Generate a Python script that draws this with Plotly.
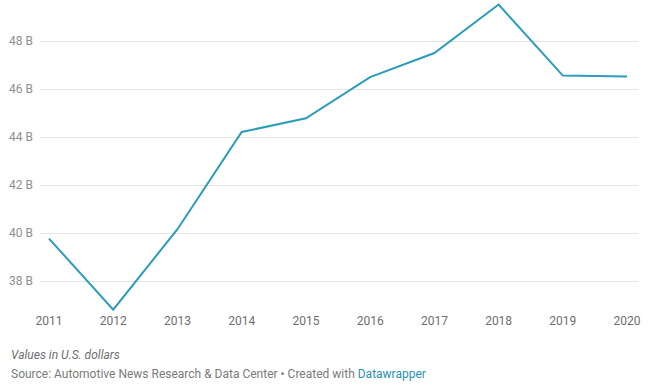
import plotly.graph_objects as go

years = [2011, 2012, 2013, 2014, 2015, 2016, 2017, 2018, 2019, 2020]
values_b = [39.78, 36.82, 40.17, 44.22, 44.79, 46.51, 47.51, 49.53, 46.57, 46.53]
y_ticks = [38, 40, 42, 44, 46, 48]
y_tick_labels = ["38 B", "40 B", "42 B", "44 B", "46 B", "48 B"]
x_tick_labels = [str(y) for y in years]

fig = go.Figure()
fig.add_trace(go.Scatter(
    x=years, y=values_b, mode="lines",
    line=dict(color="#2b9cb9", width=2),
    hoverinfo="skip", cliponaxis=False,
))

fig.update_layout(
    width=650, height=388,
    margin=dict(l=40, r=12, t=0, b=76, autoexpand=False),
    paper_bgcolor="white", plot_bgcolor="white",
    showlegend=False,
    font=dict(family="Roboto", size=12, color="#777777"),
    xaxis=dict(
        range=[2010.86, 2020.17],
        tickvals=years, ticktext=x_tick_labels,
        showgrid=False, zeroline=False, showline=False,
        ticks="", tickfont=dict(color="#6e6e6e", size=12),
        fixedrange=True, automargin=False,
    ),
    yaxis=dict(
        range=[36.72, 49.72],
        tickvals=y_ticks, ticktext=y_tick_labels,
        showgrid=True, gridcolor="#e4e4e4", gridwidth=1,
        zeroline=False, showline=False, ticks="",
        tickfont=dict(color="#8f8f8f", size=12),
        ticklabelstandoff=6,
        fixedrange=True, automargin=False,
    ),
    annotations=[
        dict(text="<i>Values in U.S. dollars</i>", xref="paper", yref="paper",
             x=-31/598, y=-(355-312)/312, xanchor="left", yanchor="middle",
             showarrow=False, font=dict(size=12, color="#6e6e6e", family="Roboto")),
        dict(text="Source: Automotive News Research &amp; Data Center • Created with "
                  "<span style='color:#2a8fb0'>Datawrapper</span>",
             xref="paper", yref="paper",
             x=-31/598, y=-(374-312)/312, xanchor="left", yanchor="middle",
             showarrow=False, font=dict(size=12, color="#7a7a7a", family="Roboto")),
    ],
)

fig.write_html(
    "out.html",
    config={"displayModeBar": False},
    post_script="document.body.style.margin='0';document.body.style.overflow='hidden';",
)
